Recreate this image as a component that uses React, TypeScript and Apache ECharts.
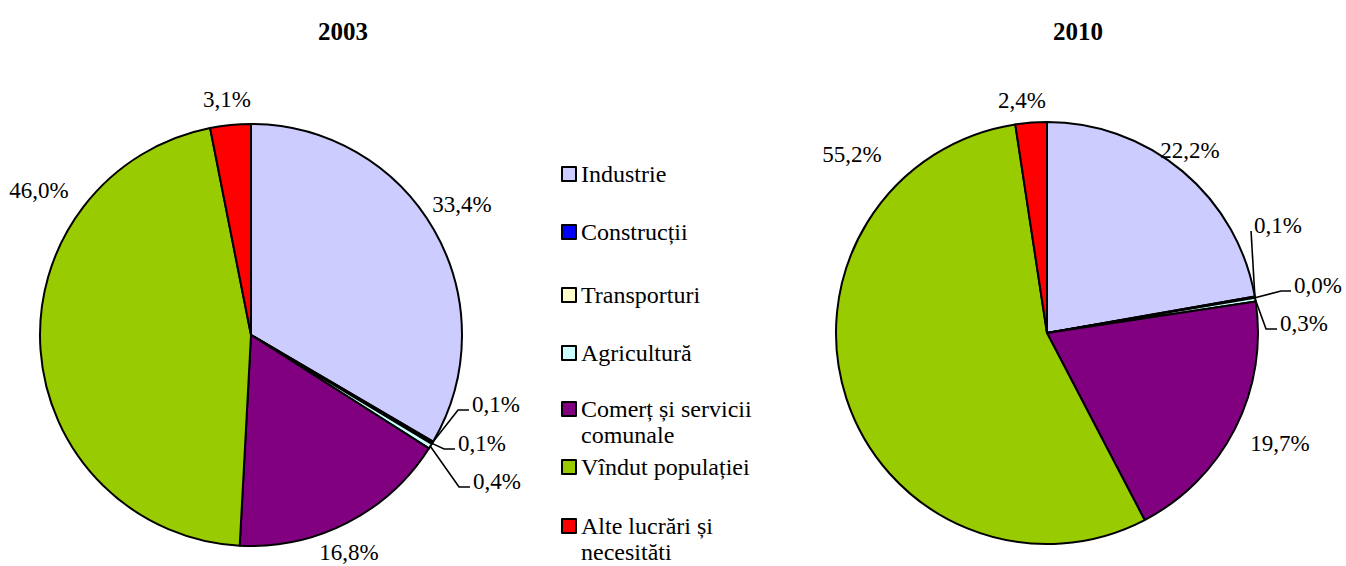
import React, { useEffect, useRef } from 'react';
import * as echarts from 'echarts';

const categories = [
  'Industrie',
  'Construcții',
  'Transporturi',
  'Agricultură',
  'Comerț și servicii comunale',
  'Vîndut populației',
  'Alte lucrări și necesităti',
];
const legendLabels = [
  'Industrie',
  'Construcții',
  'Transporturi',
  'Agricultură',
  'Comerț și servicii\ncomunale',
  'Vîndut populației',
  'Alte lucrări și\nnecesităti',
];
const years = ['2003', '2010'];
const values2003 = [33.4, 0.1, 0.1, 0.4, 16.8, 46.0, 3.1];
const values2010 = [22.2, 0.1, 0.0, 0.3, 19.7, 55.2, 2.4];
const seriesValues = [values2003, values2010];

const colors = ['#CCCCFF', '#0000FF', '#FFFFCC', '#CCFFFF', '#800080', '#99CC00', '#FF0000'];

// layout
const PIE_CENTERS = [
  [251, 335],
  [1047, 333],
];
const RADIUS = 211;
const TITLE_POS = [
  [343, 31],
  [1078, 31],
];
// label centre offsets from pie centre (as moved in the original)
const LABEL_OFFSETS = [
  [[211, -131], [245, 69], [231, 108], [246, 146], [98, 217], [-212, -145], [-24, -236]],
  [[143, -183], [231, -108], [271, -48], [257, -10], [233, 110], [-195, -179], [-25, -233]],
];
const LEADER = [
  [false, true, true, true, false, false, false],
  [false, true, true, true, false, false, false],
];
const ELBOW = [
  [0, 11, 11, 11, 0, 0, 0],
  [0, 0, 10, 11, 0, 0, 0],
];
const LEGEND_CENTERS = [174, 232, 295, 353, 409, 467, 526];
const LEGEND_LEFT = 561;

const FONT = 'Liberation Serif';

function buildOption() {
  const series = years.map((y, s) => ({
    type: 'pie',
    name: y,
    center: PIE_CENTERS[s],
    radius: RADIUS,
    startAngle: 90,
    clockwise: true,
    avoidLabelOverlap: false,
    silent: true,
    itemStyle: { borderColor: '#000', borderWidth: 2 },
    label: {
      show: true,
      position: 'outside',
      fontFamily: FONT,
      fontSize: 23,
      color: '#000',
      formatter: (p: any) => Number(p.value).toFixed(1).replace('.', ',') + '%',
    },
    labelLine: { show: true, lineStyle: { color: '#000', width: 1.6 } },
    labelLayout: (params: any) => {
      const i = params.dataIndex;
      const [cx, cy] = PIE_CENTERS[s];
      const [dx, dy] = LABEL_OFFSETS[s][i];
      const x = cx + dx;
      const y = cy + dy;
      const res: any = { x, y, align: 'center', verticalAlign: 'middle' };
      if (LEADER[s][i]) {
        const vals = seriesValues[s];
        const total = vals.reduce((a, b) => a + b, 0);
        let before = 0;
        for (let k = 0; k < i; k++) before += vals[k];
        const ang = ((before + vals[i] / 2) / total) * Math.PI * 2;
        const p0 = [cx + RADIUS * Math.sin(ang), cy - RADIUS * Math.cos(ang)];
        const w = params.labelRect ? params.labelRect.width : 48;
        const lx = x - w / 2 - 3;
        const ly = y + 6;
        res.labelLinePoints = [p0, [lx - ELBOW[s][i], ly], [lx, ly]];
      }
      return res;
    },
    emphasis: { disabled: true },
    data: categories.map((c, i) => ({
      name: c,
      value: seriesValues[s][i],
      itemStyle: { color: colors[i] },
      labelLine: { show: LEADER[s][i] },
    })),
  }));

  const legends = categories.map((c, i) => {
    const multi = legendLabels[i].indexOf('\n') >= 0;
    return {
      show: true,
      orient: 'vertical',
      left: LEGEND_LEFT,
      top: multi ? LEGEND_CENTERS[i] - 39 : LEGEND_CENTERS[i] - 13,
      padding: 0,
      data: [c],
      icon: 'rect',
      itemWidth: 14,
      itemHeight: 14,
      itemStyle: { borderColor: '#000', borderWidth: 2 },
      selectedMode: false,
      formatter: () => (multi ? '\u00a0\n' + legendLabels[i] : legendLabels[i]),
      textStyle: { fontFamily: FONT, fontSize: 24, color: '#000', lineHeight: 26 },
    };
  });

  return {
    animation: false,
    backgroundColor: '#fff',
    legend: legends,
    graphic: years.map((y, s) => ({
      type: 'text',
      x: TITLE_POS[s][0],
      y: TITLE_POS[s][1],
      style: {
        text: y,
        fontFamily: FONT,
        fontSize: 25,
        fontWeight: 'bold',
        fill: '#000',
        align: 'center',
        verticalAlign: 'middle',
      },
    })),
    series,
  };
}

export default function App() {
  const ref = useRef<HTMLDivElement>(null);
  useEffect(() => {
    if (!ref.current) return;
    const chart = echarts.init(ref.current, null, { renderer: 'svg' });
    chart.setOption(buildOption() as any);
    return () => chart.dispose();
  }, []);
  return (
    <div
      ref={ref}
      style={{ position: 'absolute', left: 0, top: 0, width: 1346, height: 566 }}
    />
  );
}
